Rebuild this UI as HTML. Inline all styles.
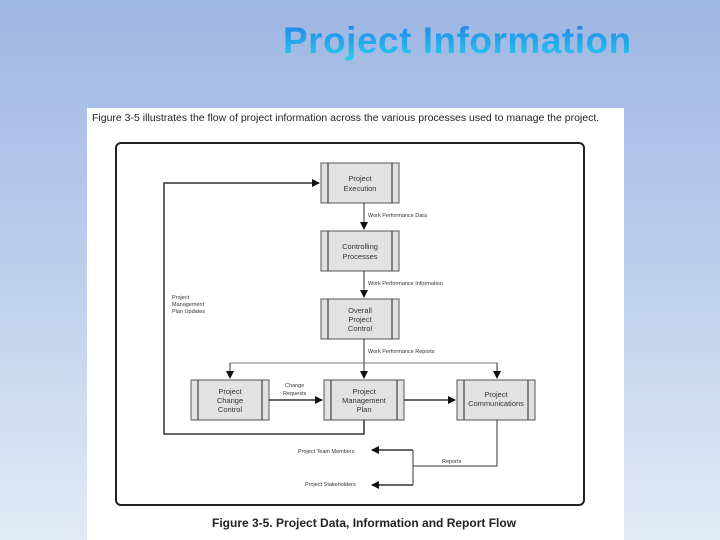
<!DOCTYPE html>
<html><head><style>
body{margin:0;width:720px;height:540px;overflow:hidden;background:linear-gradient(#9db6e2,#c4d4ee 60%,#e2eaf6);font-family:"Liberation Sans",sans-serif;position:relative}
.t{position:absolute;left:283px;top:20px;font-size:37px;font-weight:bold;background:linear-gradient(#1e7fe8,#2ad0ee);-webkit-background-clip:text;color:transparent;letter-spacing:0.5px}
.p{position:absolute;left:87px;top:108px;width:537px;height:432px;background:#fff}
</style></head><body>
<div class="t">Project Information</div>
<div class="p"></div>
<svg width="720" height="540" style="position:absolute;left:0;top:0" font-family="Liberation Sans, sans-serif">
<defs><marker id="a" markerWidth="8" markerHeight="8" refX="7" refY="4" orient="auto" markerUnits="userSpaceOnUse"><path d="M0,0L8,4L0,8z" fill="#111"/></marker></defs>
<text x="92" y="121" font-size="10.5" fill="#222">Figure 3-5 illustrates the flow of project information across the various processes used to manage the project.</text>
<rect x="116" y="143" width="468" height="362" rx="5" fill="none" stroke="#222" stroke-width="2"/>
<g fill="#e2e2e2" stroke="#555" stroke-width="1">
<rect x="321" y="163" width="78" height="40"/><rect x="321" y="231" width="78" height="40"/><rect x="321" y="299" width="78" height="40"/>
<rect x="191" y="380" width="78" height="40"/><rect x="324" y="380" width="80" height="40"/><rect x="457" y="380" width="78" height="40"/>
</g>
<g stroke="#444" stroke-width="1.2">
<path d="M328,163v40M392,163v40M328,231v40M392,231v40M328,299v40M392,299v40M198,380v40M262,380v40M331,380v40M397,380v40M464,380v40M528,380v40"/>
</g>
<g fill="none" stroke="#333" stroke-width="1">
<path d="M364,203V229" marker-end="url(#a)"/><path d="M364,271V297" marker-end="url(#a)"/><path d="M364,339V378" marker-end="url(#a)"/>
<path d="M230,378V363H497V378" stroke="#777"/><path d="M230,363V378" marker-end="url(#a)"/><path d="M497,363V378" marker-end="url(#a)"/>
<path d="M269,400H322" stroke-width="1.5" marker-end="url(#a)"/><path d="M404,400H455" stroke-width="1.5" marker-end="url(#a)"/>
<path d="M364,420V434H164V183H319" stroke-width="1.5" marker-end="url(#a)"/>
<path d="M497,420V466H413"/><path d="M413,450V485"/>
<path d="M413,450H372" stroke-width="1.5" marker-end="url(#a)"/><path d="M413,485H372" stroke-width="1.5" marker-end="url(#a)"/>
</g>
<g font-size="7.5" fill="#333" text-anchor="middle">
<text x="360" y="181">Project</text><text x="360" y="191">Execution</text>
<text x="360" y="249">Controlling</text><text x="360" y="259">Processes</text>
<text x="360" y="313">Overall</text><text x="360" y="322">Project</text><text x="360" y="331">Control</text>
<text x="230" y="394">Project</text><text x="230" y="403">Change</text><text x="230" y="412">Control</text>
<text x="364" y="394">Project</text><text x="364" y="403">Management</text><text x="364" y="412">Plan</text>
<text x="496" y="397">Project</text><text x="496" y="406">Communications</text>
</g>
<g font-size="5.5" fill="#333">
<text x="368" y="217">Work Performance Data</text><text x="368" y="285">Work Performance Information</text><text x="368" y="353">Work Performance Reports</text>
<text x="172" y="299">Project</text><text x="172" y="306">Management</text><text x="172" y="313">Plan Updates</text>
<text x="285" y="387">Change</text><text x="283" y="395">Requests</text>
<text x="442" y="463">Reports</text>
<text x="298" y="453">Project Team Members</text><text x="305" y="486">Project Stakeholders</text>
</g>
<text x="212" y="527" font-size="12" font-weight="bold" fill="#222">Figure 3-5. Project Data, Information and Report Flow</text>
</svg>
</body></html>
